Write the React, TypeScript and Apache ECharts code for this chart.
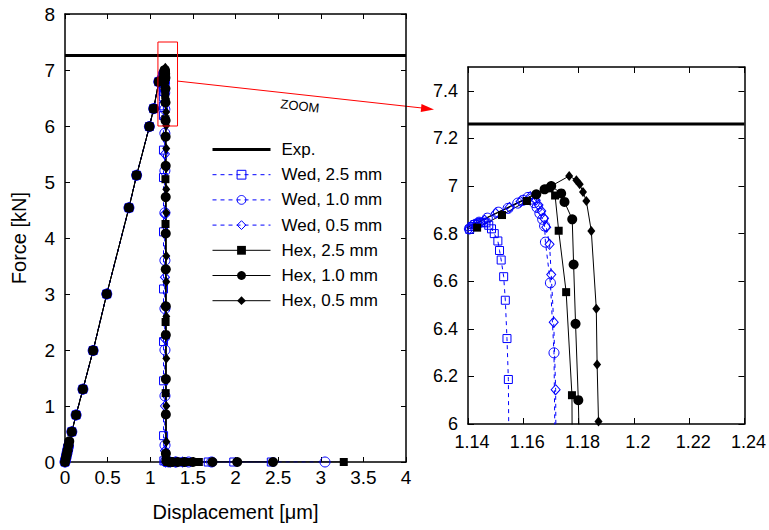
import React, { useEffect, useRef } from "react";
import * as echarts from "echarts";

const FONT = "'Liberation Sans', Arial, sans-serif";

const mainXTicks = { min: 0, max: 4, interval: 0.5 };
const mainYTicks = { min: 0, max: 8, interval: 1 };
const zoomXTicks = { min: 1.14, max: 1.24, interval: 0.02 };
const zoomYTicks = { min: 6, max: 7.5, interval: 0.2 };

const expLevel = 7.26;
const expMain = [[0, expLevel], [4, expLevel]];
const expZoom = [[1.14, expLevel], [1.24, expLevel]];
const zoomBox = [[1.09, 6], [1.32, 6], [1.32, 7.5], [1.09, 7.5], [1.09, 6]];

const wed25 = [
  [0, 0], [0.006, 0.04], [0.012, 0.08], [0.018, 0.12], [0.024, 0.17], [0.03, 0.21], [0.036, 0.25], [0.045, 0.31],
  [0.08, 0.54], [0.13, 0.84], [0.21, 1.3], [0.33, 1.99], [0.49, 3.0], [0.75, 4.54], [0.84, 5.12], [0.99, 5.99],
  [1.04, 6.31], [1.1, 6.79], [1.1406, 6.818], [1.1415, 6.83], [1.1425, 6.838], [1.1435, 6.843], [1.1445, 6.847],
  [1.1455, 6.848], [1.1465, 6.845], [1.1475, 6.835], [1.1485, 6.82], [1.1495, 6.8], [1.1508, 6.769], [1.1514, 6.729],
  [1.152, 6.689], [1.1529, 6.619], [1.1535, 6.52], [1.1541, 6.359], [1.1546, 6.187], [1.155, 5.57], [1.1553, 5.08],
  [1.1555, 4.11], [1.1557, 3.09], [1.1558, 2.15], [1.156, 1.45], [1.1562, 0.47], [1.16, 0.02], [1.2, 0], [1.25, 0],
  [1.32, 0], [1.4, 0], [1.68, 0], [1.98, 0], [2.42, 0],
];

const wed10 = [
  [0, 0], [0.008, 0.05], [0.016, 0.1], [0.024, 0.16], [0.032, 0.22], [0.04, 0.28], [0.08, 0.54], [0.13, 0.84],
  [0.21, 1.3], [0.33, 1.99], [0.49, 3.0], [0.75, 4.54], [0.84, 5.12], [0.99, 5.99], [1.04, 6.31], [1.1, 6.79],
  [1.1405, 6.82], [1.142, 6.835], [1.144, 6.848], [1.147, 6.865], [1.151, 6.89], [1.1545, 6.906], [1.158, 6.928],
  [1.1599, 6.94], [1.1617, 6.952], [1.163, 6.945], [1.164, 6.93], [1.165, 6.91], [1.166, 6.885], [1.167, 6.86],
  [1.1677, 6.832], [1.168, 6.764], [1.1698, 6.593], [1.1711, 6.299], [1.1715, 5.87], [1.1718, 5.2], [1.172, 4.45],
  [1.1722, 3.6], [1.1724, 2.74], [1.1725, 2.0], [1.1727, 1.18], [1.173, 0.3], [1.18, 0.01], [1.22, 0], [1.3, 0],
  [1.45, 0], [1.72, 0], [3.05, 0],
];

const wed05 = [
  [0, 0], [0.01, 0.06], [0.02, 0.13], [0.03, 0.2], [0.04, 0.27], [0.08, 0.54], [0.13, 0.84], [0.21, 1.3],
  [0.33, 1.99], [0.49, 3.0], [0.75, 4.54], [0.84, 5.12], [0.99, 5.99], [1.04, 6.31], [1.1, 6.79], [1.1405, 6.82],
  [1.143, 6.84], [1.146, 6.857], [1.15, 6.885], [1.155, 6.91], [1.159, 6.935], [1.1625, 6.955], [1.1645, 6.94],
  [1.1655, 6.92], [1.1665, 6.895], [1.1675, 6.865], [1.1683, 6.827], [1.1695, 6.755], [1.1701, 6.628],
  [1.171, 6.428], [1.1717, 6.144], [1.172, 5.5], [1.1722, 4.43], [1.1724, 3.3], [1.1726, 2.2], [1.1728, 1.0],
  [1.173, 0.2], [1.18, 0], [1.24, 0], [1.3, 0], [1.38, 0],
];

const hex25 = [
  [0, 0], [0.012, 0.08], [0.025, 0.17], [0.038, 0.26], [0.05, 0.35], [0.08, 0.54], [0.13, 0.84], [0.21, 1.3],
  [0.33, 1.99], [0.49, 3.0], [0.75, 4.54], [0.84, 5.12], [0.99, 5.99], [1.04, 6.31], [1.1, 6.79], [1.1433, 6.825],
  [1.1523, 6.878], [1.1613, 6.937], [1.1695, 6.99], [1.1715, 6.96], [1.1728, 6.812], [1.1755, 6.554],
  [1.1776, 6.121], [1.178, 5.05], [1.179, 4.25], [1.18, 2.5], [1.181, 1.23], [1.182, 0.05], [1.2, 0], [1.27, 0],
  [1.33, 0], [1.4, 0], [1.47, 0], [1.57, 0], [3.27, 0],
];

const hex10 = [
  [0, 0], [0.01, 0.07], [0.02, 0.14], [0.03, 0.21], [0.04, 0.3], [0.05, 0.37], [0.08, 0.54], [0.13, 0.84],
  [0.21, 1.3], [0.33, 1.99], [0.49, 3.0], [0.75, 4.54], [0.84, 5.12], [0.99, 5.99], [1.04, 6.31], [1.1, 6.79],
  [1.135, 6.8], [1.1647, 6.965], [1.1677, 6.986], [1.1701, 7.0], [1.1737, 6.969], [1.1749, 6.933], [1.1777, 6.86],
  [1.1782, 6.67], [1.1789, 6.421], [1.1799, 6.1], [1.1805, 5.81], [1.181, 5.29], [1.1815, 4.73], [1.182, 4.08],
  [1.182, 3.44], [1.1825, 2.78], [1.1825, 2.27], [1.183, 1.48], [1.183, 0.85], [1.1835, 0.15], [1.19, 0.02],
  [1.22, 0], [1.26, 0], [1.32, 0], [1.4, 0], [1.5, 0], [1.73, 0], [2.02, 0], [2.44, 0],
];

const hex05 = [
  [0, 0], [0.015, 0.1], [0.03, 0.2], [0.045, 0.32], [0.08, 0.54], [0.13, 0.84], [0.21, 1.3], [0.33, 1.99],
  [0.49, 3.0], [0.75, 4.54], [0.84, 5.12], [0.99, 5.99], [1.04, 6.31], [1.1, 6.79], [1.135, 6.8], [1.1701, 7.0],
  [1.1766, 7.042], [1.1792, 7.024], [1.1804, 7.007], [1.1816, 6.975], [1.1828, 6.937], [1.1846, 6.811],
  [1.1864, 6.484], [1.1867, 6.25], [1.1872, 6.011], [1.1875, 5.6], [1.1878, 5.25], [1.188, 4.87], [1.1882, 4.45],
  [1.1884, 3.68], [1.1885, 3.22], [1.1886, 2.6], [1.1887, 1.85], [1.1888, 1.0], [1.189, 0.36], [1.195, 0.02],
  [1.25, 0], [1.32, 0], [1.4, 0],
];

const legendNames = ["Exp.", "Wed, 2.5 mm", "Wed, 1.0 mm", "Wed, 0.5 mm", "Hex, 2.5 mm", "Hex, 1.0 mm", "Hex, 0.5 mm"];

const BLUE = "#0000ff";

const seriesDefs = [
  { name: legendNames[1], data: wed25, symbol: "rect", size: [8, 8], blue: true },
  { name: legendNames[2], data: wed10, symbol: "circle", size: [10, 10], blue: true },
  { name: legendNames[3], data: wed05, symbol: "diamond", size: [9, 10], blue: true },
  { name: legendNames[4], data: hex25, symbol: "rect", size: [8, 8], blue: false },
  { name: legendNames[5], data: hex10, symbol: "circle", size: [10, 10], blue: false },
  { name: legendNames[6], data: hex05, symbol: "diamond", size: [8, 10], blue: false },
];

function makeAxes(gridIndex: number, xt: any, yt: any, fs: number, xLabel: any, yLabel: any, tickLen: number, named: boolean) {
  const lineStyle = { color: "#000", width: 1.5 };
  const label = { color: "#000", fontFamily: FONT, fontSize: fs };
  const xBase = {
    type: "value", gridIndex, min: xt.min, max: xt.max, interval: xt.interval,
    axisLine: { show: true, onZero: false, lineStyle },
    axisTick: { show: true, inside: true, length: tickLen, lineStyle: { color: "#000", width: 1 } },
    splitLine: { show: false },
  };
  const yBase = {
    type: "value", gridIndex, min: yt.min, max: yt.max, interval: yt.interval,
    axisLine: { show: true, onZero: false, lineStyle },
    axisTick: { show: true, inside: true, length: tickLen, lineStyle: { color: "#000", width: 1 } },
    splitLine: { show: false },
  };
  const xAxes = [
    {
      ...xBase, position: "bottom",
      axisLabel: { ...label, ...xLabel },
      ...(named ? { name: "Displacement [μm]", nameLocation: "middle", nameGap: 40, nameTextStyle: { color: "#000", fontFamily: FONT, fontSize: 20 } } : {}),
    },
    { ...xBase, position: "top", axisLabel: { show: false } },
  ];
  const yAxes = [
    {
      ...yBase, position: "left",
      axisLabel: { ...label, ...yLabel, showMaxLabel: named },
      ...(named ? { name: "Force [kN]", nameLocation: "middle", nameGap: 36, nameTextStyle: { color: "#000", fontFamily: FONT, fontSize: 20 } } : {}),
    },
    { ...yBase, position: "right", axisLabel: { show: false } },
  ];
  return { xAxes, yAxes };
}

function buildSeries(axisIdx: number) {
  const out: any[] = [];
  out.push({
    name: legendNames[0], type: "line", xAxisIndex: axisIdx, yAxisIndex: axisIdx,
    data: axisIdx === 0 ? expMain : expZoom, symbol: "none", silent: true,
    lineStyle: { color: "#000", width: 3 }, itemStyle: { color: "rgba(0,0,0,0)", borderWidth: 0 },
  });
  for (const d of seriesDefs) {
    out.push({
      name: d.name, type: "line", xAxisIndex: axisIdx, yAxisIndex: axisIdx, data: d.data,
      symbol: d.symbol, symbolSize: d.size, showAllSymbol: true, silent: true,
      lineStyle: d.blue ? { color: BLUE, width: 1, type: [4, 4] } : { color: "#000", width: 1 },
      itemStyle: d.blue
        ? { color: "rgba(0,0,0,0)", borderColor: BLUE, borderWidth: 1 }
        : { color: "#000", borderWidth: 0 },
    });
  }
  return out;
}

export default function App() {
  const ref = useRef<HTMLDivElement>(null);
  useEffect(() => {
    if (!ref.current) return;
    const chart = echarts.init(ref.current, null, { renderer: "svg" });
    const m = makeAxes(0, mainXTicks, mainYTicks, 19, { margin: 6 }, { margin: 10 }, 5, true);
    const z = makeAxes(
      1, zoomXTicks, zoomYTicks, 18,
      { margin: 9, padding: [0, 0, 0, 8] },
      { margin: 10 },
      6, false
    );
    const series = [
      ...buildSeries(0),
      {
        name: "zoomBox", type: "line", xAxisIndex: 0, yAxisIndex: 0, data: zoomBox, symbol: "none",
        silent: true, lineStyle: { color: "#ff0000", width: 1 }, z: 5,
      },
      ...buildSeries(2),
    ];
    chart.setOption({
      animation: false,
      backgroundColor: "#fff",
      textStyle: { fontFamily: FONT },
      grid: [
        { left: 65, right: 363, top: 14, bottom: 68 },
        { left: 468, right: 24, top: 67, bottom: 106 },
      ],
      xAxis: [...m.xAxes, ...z.xAxes],
      yAxis: [...m.yAxes, ...z.yAxes],
      legend: {
        data: legendNames,
        orient: "vertical",
        left: 211,
        top: 141,
        padding: 0,
        itemWidth: 58,
        itemHeight: 11,
        itemGap: 8.2,
        selectedMode: false,
        textStyle: { color: "#000", fontFamily: FONT, fontSize: 17, lineHeight: 17, padding: [0, 0, 0, 6] },
        lineStyle: { width: "inherit" },
        itemStyle: { borderWidth: "inherit" },
      },
      graphic: [
        { type: "line", shape: { x1: 177, y1: 81, x2: 422, y2: 108 }, style: { stroke: "#ff0000", lineWidth: 1 }, silent: true },
        { type: "polygon", shape: { points: [[434, 109.5], [421.5, 104.1], [420.7, 112.1]] }, style: { fill: "#ff0000" }, silent: true },
        {
          type: "text", x: 300, y: 106, rotation: -0.11,
          style: { text: "ZOOM", fill: "#000", font: `13px ${FONT}`, align: "center", verticalAlign: "middle" },
          silent: true,
        },
      ],
      series,
    });
    return () => chart.dispose();
  }, []);
  return <div ref={ref} style={{ position: "absolute", left: 0, top: 0, width: 769, height: 530 }} />;
}
